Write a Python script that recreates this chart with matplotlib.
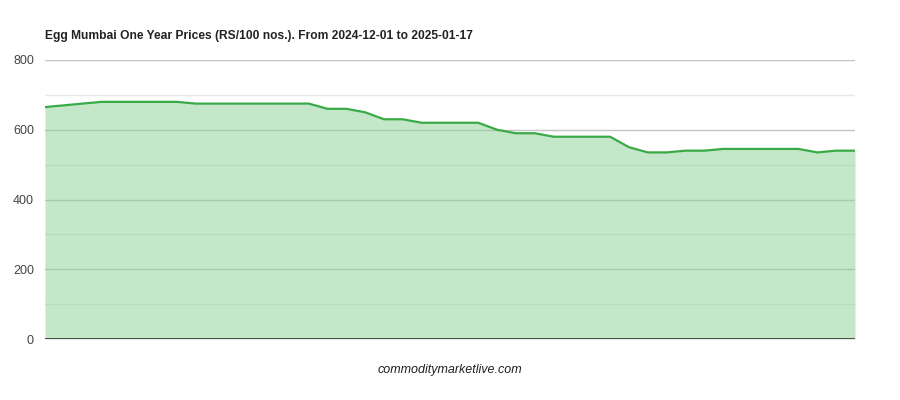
import matplotlib.pyplot as plt
from matplotlib.ticker import MultipleLocator

plt.rcParams['font.family'] = ['Liberation Sans', 'DejaVu Sans']

# Egg Mumbai prices (RS/100 nos.), one point per reported day
prices = [665, 670, 675, 680, 680, 680, 680, 680, 675, 675,
          675, 675, 675, 675, 675, 660, 660, 650, 630, 630,
          620, 620, 620, 620, 600, 590, 590, 580, 580, 580,
          580, 550, 535, 535, 540, 540, 545, 545, 545, 545,
          545, 535, 540, 540]
days = list(range(len(prices)))
title = "Egg Mumbai One Year Prices (RS/100 nos.). From 2024-12-01 to 2025-01-17"

fig = plt.figure(figsize=(9, 4), dpi=100)
ax = fig.add_axes([0.05, 0.1525, 0.90, 0.6975])

# gridlines sit under the translucent fill, so they show through it
ax.fill_between(days, prices, 0, color="#8fd19a", alpha=0.52, linewidth=0, zorder=3)
ax.plot(days, prices, color="#3aaa46", linewidth=1.6, zorder=4)

ax.set_xlim(0, len(prices) - 1)
ax.set_ylim(0, 800)
ax.yaxis.set_major_locator(MultipleLocator(200))
ax.yaxis.set_minor_locator(MultipleLocator(100))
ax.set_axisbelow(True)
ax.grid(which="major", axis="y", color="#c4c4c4", linewidth=1)
ax.grid(which="minor", axis="y", color="#e8e8e8", linewidth=1)
ax.axhline(0, color="#333333", linewidth=1.2, zorder=5)

for s in ax.spines.values():
    s.set_visible(False)
ax.set_xticks([])
ax.tick_params(axis="y", which="both", length=0, labelsize=9, labelcolor="#444444", pad=8)

fig.text(0.05, 0.91, title, fontsize=8.65, fontweight="bold", color="#222222", va="center")
fig.text(0.5, 0.075, "commoditymarketlive.com", fontsize=9, style="italic",
         color="#222222", ha="center", va="center")

fig.savefig("out.png", dpi=100)
